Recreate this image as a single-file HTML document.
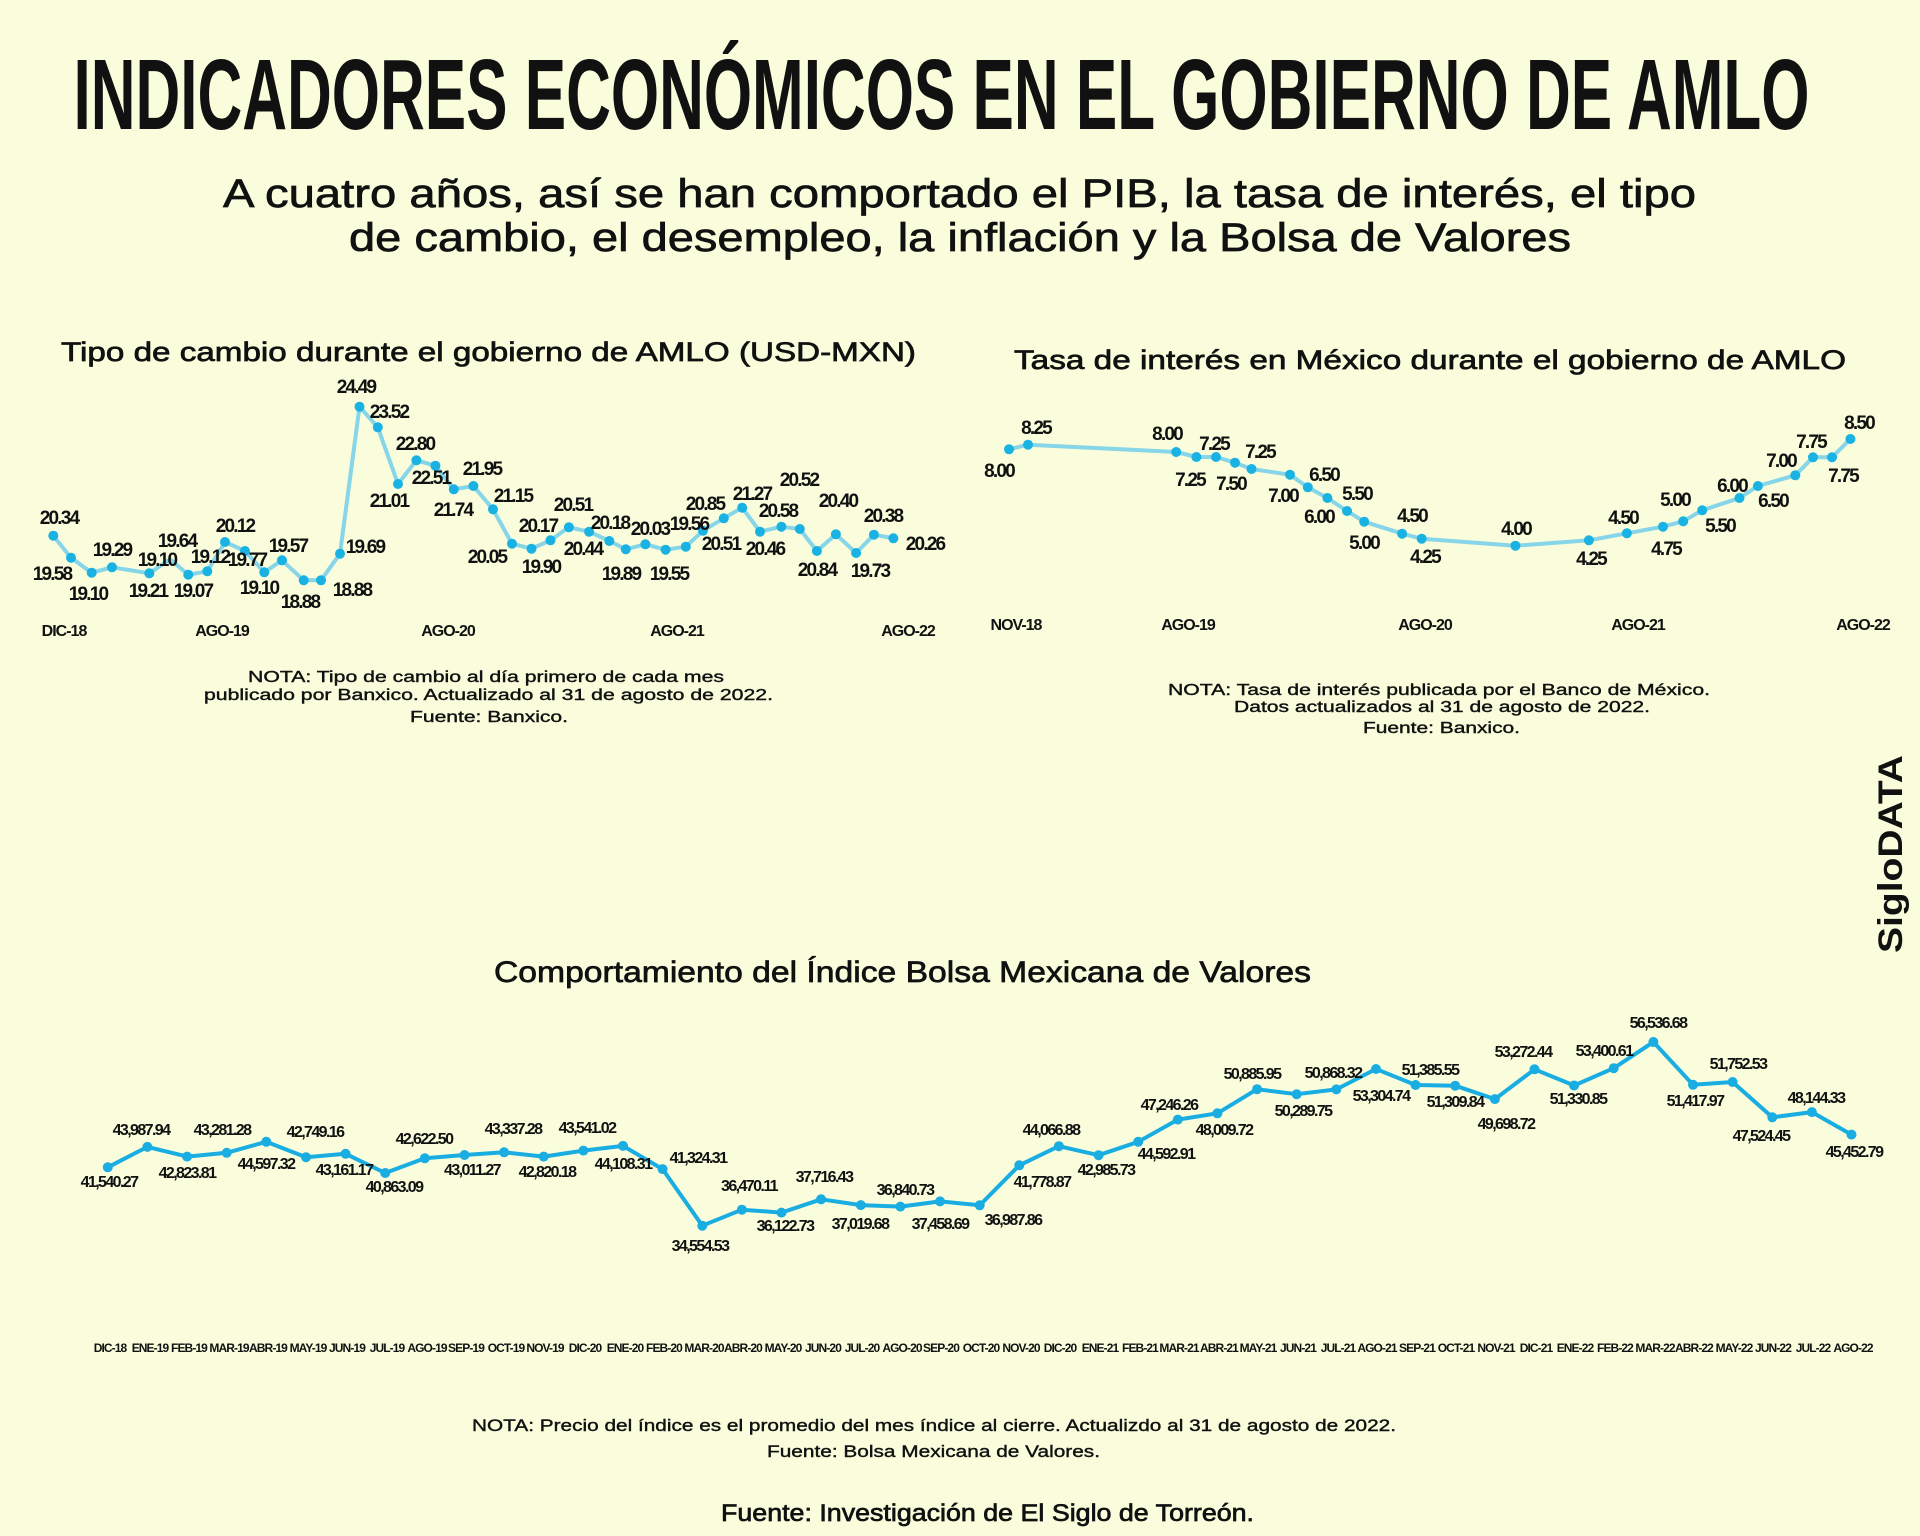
<!DOCTYPE html>
<html><head><meta charset="utf-8"><style>
html,body{margin:0;padding:0;background:#f9fddb;}
svg{display:block;}
.n{font-family:"Liberation Sans Narrow","Liberation Sans",sans-serif;font-weight:bold;fill:#111;}
.s{font-family:"Liberation Sans","DejaVu Sans",sans-serif;fill:#111;}
.m{stroke:#111;stroke-width:0.7;}
.v{font-size:19px;text-anchor:middle;letter-spacing:-1.8px;}
.b{font-size:16px;text-anchor:middle;letter-spacing:-1.6px;}
.ax{font-size:16px;text-anchor:middle;letter-spacing:-1px;}
.bx{font-size:12px;text-anchor:middle;letter-spacing:-0.9px;}
</style></head><body>
<svg width="1920" height="1536" viewBox="0 0 1920 1536" xmlns="http://www.w3.org/2000/svg">
<rect width="1920" height="1536" fill="#f9fddb"/>
<text class="n" x="73.5" y="129" font-size="100" textLength="1736" lengthAdjust="spacingAndGlyphs">INDICADORES ECONÓMICOS EN EL GOBIERNO DE AMLO</text>
<text class="s m" x="223" y="207" font-size="40" textLength="1473" lengthAdjust="spacingAndGlyphs">A cuatro años, así se han comportado el PIB, la tasa de interés, el tipo</text>
<text class="s m" x="349" y="251" font-size="40" textLength="1222" lengthAdjust="spacingAndGlyphs">de cambio, el desempleo, la inflación y la Bolsa de Valores</text>
<text class="s m" x="61" y="361" font-size="27" textLength="855" lengthAdjust="spacingAndGlyphs">Tipo de cambio durante el gobierno de AMLO (USD-MXN)</text>
<text class="s m" x="1014" y="369" font-size="27" textLength="832" lengthAdjust="spacingAndGlyphs">Tasa de interés en México durante el gobierno de AMLO</text>
<text class="s m" x="494" y="982" font-size="30" textLength="817" lengthAdjust="spacingAndGlyphs">Comportamiento del Índice Bolsa Mexicana de Valores</text>
<text class="s" font-weight="bold" font-size="34" transform="translate(1902,953) rotate(-90)" textLength="198" lengthAdjust="spacingAndGlyphs">SigloDATA</text>

<!-- Chart 1 -->
<polyline fill="none" stroke="#86d5e8" stroke-width="4" stroke-linejoin="round" points="53.3,535.7 71,557.7 91.7,572.7 112,567.3 149.3,573.3 170,559.3 188.3,574.7 207.3,571.3 225,542 245,551 264.3,572.3 282,560.3 303.7,580.3 321,580.3 340,553.7 359.5,406.7 377.8,427.3 398,484 416.4,460.3 435.4,465.7 453.8,489.3 473.4,486 493,509.3 512,543.7 531.5,548.7 550.5,540.3 568.9,527.3 589.1,531.7 609.3,541 625.8,549.3 645.4,544.3 665.6,549.7 685.8,546.7 703,530.7 723.8,518.3 742.2,507.7 760,531.7 781.4,526.7 799.8,529 816.9,551 835.9,534.3 856.1,553 873.9,534.7 893.4,538.3"/>
<g fill="#19b2e3">
<circle cx="53.3" cy="535.7" r="5"/><circle cx="71" cy="557.7" r="5"/><circle cx="91.7" cy="572.7" r="5"/><circle cx="112" cy="567.3" r="5"/><circle cx="149.3" cy="573.3" r="5"/><circle cx="188.3" cy="574.7" r="5"/><circle cx="207.3" cy="571.3" r="5"/><circle cx="225" cy="542" r="5"/><circle cx="245" cy="551" r="5"/><circle cx="264.3" cy="572.3" r="5"/><circle cx="282" cy="560.3" r="5"/><circle cx="303.7" cy="580.3" r="5"/><circle cx="321" cy="580.3" r="5"/><circle cx="340" cy="553.7" r="5"/><circle cx="359.5" cy="406.7" r="5"/><circle cx="377.8" cy="427.3" r="5"/><circle cx="398" cy="484" r="5"/><circle cx="416.4" cy="460.3" r="5"/><circle cx="435.4" cy="465.7" r="5"/><circle cx="453.8" cy="489.3" r="5"/><circle cx="473.4" cy="486" r="5"/><circle cx="493" cy="509.3" r="5"/><circle cx="512" cy="543.7" r="5"/><circle cx="531.5" cy="548.7" r="5"/><circle cx="550.5" cy="540.3" r="5"/><circle cx="568.9" cy="527.3" r="5"/><circle cx="589.1" cy="531.7" r="5"/><circle cx="609.3" cy="541" r="5"/><circle cx="625.8" cy="549.3" r="5"/><circle cx="645.4" cy="544.3" r="5"/><circle cx="665.6" cy="549.7" r="5"/><circle cx="685.8" cy="546.7" r="5"/><circle cx="703" cy="530.7" r="5"/><circle cx="723.8" cy="518.3" r="5"/><circle cx="742.2" cy="507.7" r="5"/><circle cx="760" cy="531.7" r="5"/><circle cx="781.4" cy="526.7" r="5"/><circle cx="799.8" cy="529" r="5"/><circle cx="816.9" cy="551" r="5"/><circle cx="835.9" cy="534.3" r="5"/><circle cx="856.1" cy="553" r="5"/><circle cx="873.9" cy="534.7" r="5"/><circle cx="893.4" cy="538.3" r="5"/>
</g>
<g class="n v">
<text x="59" y="524">20.34</text><text x="52" y="580">19.58</text><text x="88" y="600">19.10</text><text x="112" y="556">19.29</text><text x="148" y="597">19.21</text><text x="157" y="566">19.10</text><text x="177" y="547">19.64</text><text x="193" y="597">19.07</text><text x="210" y="563">19.12</text><text x="235" y="532">20.12</text><text x="247" y="566">19.77</text><text x="259" y="594">19.10</text><text x="288" y="552">19.57</text><text x="300" y="608">18.88</text><text x="352" y="596">18.88</text><text x="365" y="553">19.69</text>
<text x="356" y="393">24.49</text><text x="389" y="418">23.52</text><text x="389" y="507">21.01</text><text x="415" y="450">22.80</text><text x="431" y="484">22.51</text><text x="453" y="516">21.74</text><text x="482" y="475">21.95</text><text x="513" y="502">21.15</text><text x="487" y="563">20.05</text><text x="538" y="532">20.17</text><text x="541" y="573">19.90</text><text x="573" y="511">20.51</text><text x="583" y="555">20.44</text><text x="610" y="529">20.18</text><text x="621" y="580">19.89</text><text x="650" y="535">20.03</text><text x="669" y="580">19.55</text><text x="689" y="530">19.56</text><text x="705" y="510">20.85</text><text x="721" y="550">20.51</text><text x="752" y="500">21.27</text><text x="765" y="555">20.46</text><text x="778" y="517">20.58</text><text x="799" y="486">20.52</text><text x="817" y="576">20.84</text><text x="838" y="507">20.40</text><text x="870" y="577">19.73</text><text x="883" y="522">20.38</text><text x="925" y="550">20.26</text>
</g>
<g class="n ax">
<text x="64" y="636">DIC-18</text><text x="222" y="636">AGO-19</text><text x="448" y="636">AGO-20</text><text x="677" y="636">AGO-21</text><text x="908" y="636">AGO-22</text>
</g>
<g class="s m" font-size="16" style="stroke-width:0.4">
<text x="248" y="682" textLength="476" lengthAdjust="spacingAndGlyphs">NOTA: Tipo de cambio al día primero de cada mes</text>
<text x="204" y="700" textLength="569" lengthAdjust="spacingAndGlyphs">publicado por Banxico. Actualizado al 31 de agosto de 2022.</text>
<text x="410" y="722" textLength="158" lengthAdjust="spacingAndGlyphs">Fuente: Banxico.</text>
</g>

<!-- Chart 2 -->
<polyline fill="none" stroke="#86d5e8" stroke-width="4" stroke-linejoin="round" points="1009,449.3 1028,444.7 1176.2,452 1196.4,457 1216,457 1235,462.7 1251.5,469 1290,474.7 1307.8,487.3 1327.4,498 1347,511 1364.2,521.7 1402.1,533.7 1421.7,538.7 1515.4,545.7 1588.9,540.3 1626.9,533.3 1663,526.7 1683.2,521.3 1702.2,510.3 1739.5,498 1757.9,486 1795.3,475.3 1813,457.3 1832,457.3 1850.4,439"/>
<g fill="#19b2e3">
<circle cx="1009" cy="449.3" r="5"/><circle cx="1028" cy="444.7" r="5"/><circle cx="1176.2" cy="452" r="5"/><circle cx="1196.4" cy="457" r="5"/><circle cx="1216" cy="457" r="5"/><circle cx="1235" cy="462.7" r="5"/><circle cx="1251.5" cy="469" r="5"/><circle cx="1290" cy="474.7" r="5"/><circle cx="1307.8" cy="487.3" r="5"/><circle cx="1327.4" cy="498" r="5"/><circle cx="1347" cy="511" r="5"/><circle cx="1364.2" cy="521.7" r="5"/><circle cx="1402.1" cy="533.7" r="5"/><circle cx="1421.7" cy="538.7" r="5"/><circle cx="1515.4" cy="545.7" r="5"/><circle cx="1588.9" cy="540.3" r="5"/><circle cx="1626.9" cy="533.3" r="5"/><circle cx="1663" cy="526.7" r="5"/><circle cx="1683.2" cy="521.3" r="5"/><circle cx="1702.2" cy="510.3" r="5"/><circle cx="1739.5" cy="498" r="5"/><circle cx="1757.9" cy="486" r="5"/><circle cx="1795.3" cy="475.3" r="5"/><circle cx="1813" cy="457.3" r="5"/><circle cx="1832" cy="457.3" r="5"/><circle cx="1850.4" cy="439" r="5"/>
</g>
<g class="n v">
<text x="999" y="477">8.00</text><text x="1036" y="434">8.25</text><text x="1167" y="440">8.00</text><text x="1214" y="450">7.25</text><text x="1190" y="486">7.25</text><text x="1260" y="458">7.25</text><text x="1231" y="490">7.50</text><text x="1283" y="502">7.00</text><text x="1324" y="481">6.50</text><text x="1319" y="523">6.00</text><text x="1357" y="500">5.50</text><text x="1364" y="549">5.00</text><text x="1412" y="522">4.50</text><text x="1425" y="563">4.25</text><text x="1516" y="535">4.00</text><text x="1591" y="565">4.25</text><text x="1623" y="524">4.50</text><text x="1666" y="555">4.75</text><text x="1675" y="506">5.00</text><text x="1720" y="532">5.50</text><text x="1732" y="492">6.00</text><text x="1773" y="507">6.50</text><text x="1781" y="467">7.00</text><text x="1811" y="448">7.75</text><text x="1843" y="482">7.75</text><text x="1859" y="429">8.50</text>
</g>
<g class="n ax">
<text x="1016" y="630">NOV-18</text><text x="1188" y="630">AGO-19</text><text x="1425" y="630">AGO-20</text><text x="1638" y="630">AGO-21</text><text x="1863" y="630">AGO-22</text>
</g>
<g class="s m" font-size="16" style="stroke-width:0.4">
<text x="1168" y="695" textLength="542" lengthAdjust="spacingAndGlyphs">NOTA: Tasa de interés publicada por el Banco de México.</text>
<text x="1234" y="712" textLength="416" lengthAdjust="spacingAndGlyphs">Datos actualizados al 31 de agosto de 2022.</text>
<text x="1363" y="733" textLength="157" lengthAdjust="spacingAndGlyphs">Fuente: Banxico.</text>
</g>

<!-- Chart 3 -->
<polyline fill="none" stroke="#19ade2" stroke-width="4" stroke-linejoin="round" points="107.8,1167.3 147.4,1146.9 187.1,1156.6 226.7,1152.8 266.3,1141.8 306,1157.2 345.6,1153.8 385.2,1173 424.8,1158.3 464.5,1155 504.1,1152.3 543.7,1156.6 583.4,1150.6 623,1145.9 662.6,1169.1 702.3,1225.7 741.9,1209.7 781.5,1212.6 821.1,1199.3 860.8,1205.1 900.4,1206.6 940,1201.4 979.7,1205.3 1019.3,1165.3 1058.9,1146.2 1098.6,1155.2 1138.2,1141.8 1177.8,1119.6 1217.4,1113.3 1257.1,1089.2 1296.7,1094.2 1336.3,1089.4 1376,1069 1415.6,1085 1455.2,1085.7 1494.9,1099.1 1534.5,1069.3 1574.1,1085.5 1613.7,1068.2 1653.4,1042 1693,1084.8 1732.6,1082 1772.3,1117.3 1811.9,1112.1 1851.5,1134.6"/>
<g fill="#19ade2">
<circle cx="107.8" cy="1167.3" r="5"/><circle cx="147.4" cy="1146.9" r="5"/><circle cx="187.1" cy="1156.6" r="5"/><circle cx="226.7" cy="1152.8" r="5"/><circle cx="266.3" cy="1141.8" r="5"/><circle cx="306" cy="1157.2" r="5"/><circle cx="345.6" cy="1153.8" r="5"/><circle cx="385.2" cy="1173" r="5"/><circle cx="424.8" cy="1158.3" r="5"/><circle cx="464.5" cy="1155" r="5"/><circle cx="504.1" cy="1152.3" r="5"/><circle cx="543.7" cy="1156.6" r="5"/><circle cx="583.4" cy="1150.6" r="5"/><circle cx="623" cy="1145.9" r="5"/><circle cx="662.6" cy="1169.1" r="5"/><circle cx="702.3" cy="1225.7" r="5"/><circle cx="741.9" cy="1209.7" r="5"/><circle cx="781.5" cy="1212.6" r="5"/><circle cx="821.1" cy="1199.3" r="5"/><circle cx="860.8" cy="1205.1" r="5"/><circle cx="900.4" cy="1206.6" r="5"/><circle cx="940" cy="1201.4" r="5"/><circle cx="979.7" cy="1205.3" r="5"/><circle cx="1019.3" cy="1165.3" r="5"/><circle cx="1058.9" cy="1146.2" r="5"/><circle cx="1098.6" cy="1155.2" r="5"/><circle cx="1138.2" cy="1141.8" r="5"/><circle cx="1177.8" cy="1119.6" r="5"/><circle cx="1217.4" cy="1113.3" r="5"/><circle cx="1257.1" cy="1089.2" r="5"/><circle cx="1296.7" cy="1094.2" r="5"/><circle cx="1336.3" cy="1089.4" r="5"/><circle cx="1376" cy="1069" r="5"/><circle cx="1415.6" cy="1085" r="5"/><circle cx="1455.2" cy="1085.7" r="5"/><circle cx="1494.9" cy="1099.1" r="5"/><circle cx="1534.5" cy="1069.3" r="5"/><circle cx="1574.1" cy="1085.5" r="5"/><circle cx="1613.7" cy="1068.2" r="5"/><circle cx="1653.4" cy="1042" r="5"/><circle cx="1693" cy="1084.8" r="5"/><circle cx="1732.6" cy="1082" r="5"/><circle cx="1772.3" cy="1117.3" r="5"/><circle cx="1811.9" cy="1112.1" r="5"/><circle cx="1851.5" cy="1134.6" r="5"/>
</g>
<g class="n b">
<text x="109" y="1187">41,540.27</text><text x="141" y="1135">43,987.94</text><text x="187" y="1178">42,823.81</text><text x="222" y="1135">43,281.28</text><text x="266" y="1169">44,597.32</text><text x="315" y="1137">42,749.16</text><text x="344" y="1175">43,161.17</text><text x="394" y="1192">40,863.09</text><text x="424" y="1144">42,622.50</text><text x="472" y="1175">43,011.27</text><text x="513" y="1134">43,337.28</text><text x="547" y="1177">42,820.18</text><text x="587" y="1133">43,541.02</text><text x="623" y="1169">44,108.31</text><text x="698" y="1163">41,324.31</text><text x="700" y="1251">34,554.53</text><text x="749" y="1191">36,470.11</text><text x="785" y="1231">36,122.73</text><text x="824" y="1182">37,716.43</text><text x="860" y="1229">37,019.68</text><text x="905" y="1195">36,840.73</text><text x="940" y="1229">37,458.69</text><text x="1013" y="1225">36,987.86</text><text x="1042" y="1187">41,778.87</text><text x="1051" y="1135">44,066.88</text><text x="1106" y="1175">42,985.73</text><text x="1166" y="1159">44,592.91</text><text x="1169" y="1110">47,246.26</text><text x="1224" y="1135">48,009.72</text><text x="1252" y="1079">50,885.95</text><text x="1303" y="1116">50,289.75</text><text x="1333" y="1078">50,868.32</text><text x="1381" y="1101">53,304.74</text><text x="1430" y="1075">51,385.55</text><text x="1455" y="1107">51,309.84</text><text x="1506" y="1129">49,698.72</text><text x="1523" y="1057">53,272.44</text><text x="1578" y="1104">51,330.85</text><text x="1604" y="1056">53,400.61</text><text x="1658" y="1028">56,536.68</text><text x="1695" y="1106">51,417.97</text><text x="1738" y="1069">51,752.53</text><text x="1761" y="1141">47,524.45</text><text x="1816" y="1103">48,144.33</text><text x="1854" y="1157">45,452.79</text>
</g>
<g class="n bx">
<text x="110" y="1352">DIC-18</text><text x="150" y="1352">ENE-19</text><text x="189" y="1352">FEB-19</text><text x="229" y="1352">MAR-19</text><text x="268" y="1352">ABR-19</text><text x="308" y="1352">MAY-19</text><text x="347" y="1352">JUN-19</text><text x="387" y="1352">JUL-19</text><text x="427" y="1352">AGO-19</text><text x="466" y="1352">SEP-19</text><text x="506" y="1352">OCT-19</text><text x="545" y="1352">NOV-19</text><text x="585" y="1352">DIC-20</text><text x="625" y="1352">ENE-20</text><text x="664" y="1352">FEB-20</text><text x="704" y="1352">MAR-20</text><text x="743" y="1352">ABR-20</text><text x="783" y="1352">MAY-20</text><text x="823" y="1352">JUN-20</text><text x="862" y="1352">JUL-20</text><text x="902" y="1352">AGO-20</text><text x="941" y="1352">SEP-20</text><text x="981" y="1352">OCT-20</text><text x="1021" y="1352">NOV-20</text><text x="1060" y="1352">DIC-20</text><text x="1100" y="1352">ENE-21</text><text x="1140" y="1352">FEB-21</text><text x="1179" y="1352">MAR-21</text><text x="1219" y="1352">ABR-21</text><text x="1258" y="1352">MAY-21</text><text x="1298" y="1352">JUN-21</text><text x="1338" y="1352">JUL-21</text><text x="1377" y="1352">AGO-21</text><text x="1417" y="1352">SEP-21</text><text x="1456" y="1352">OCT-21</text><text x="1496" y="1352">NOV-21</text><text x="1536" y="1352">DIC-21</text><text x="1575" y="1352">ENE-22</text><text x="1615" y="1352">FEB-22</text><text x="1655" y="1352">MAR-22</text><text x="1694" y="1352">ABR-22</text><text x="1734" y="1352">MAY-22</text><text x="1773" y="1352">JUN-22</text><text x="1813" y="1352">JUL-22</text><text x="1853" y="1352">AGO-22</text>
</g>
<g class="s m" font-size="17" style="stroke-width:0.4">
<text x="472" y="1431" textLength="924" lengthAdjust="spacingAndGlyphs">NOTA: Precio del índice es el promedio del mes índice al cierre. Actualizdo al 31 de agosto de 2022.</text>
<text x="767" y="1457" textLength="333" lengthAdjust="spacingAndGlyphs">Fuente: Bolsa Mexicana de Valores.</text>
</g>
<text class="s m" x="721" y="1521" font-size="24" textLength="533" lengthAdjust="spacingAndGlyphs">Fuente: Investigación de El Siglo de Torreón.</text>
</svg>
</body></html>
